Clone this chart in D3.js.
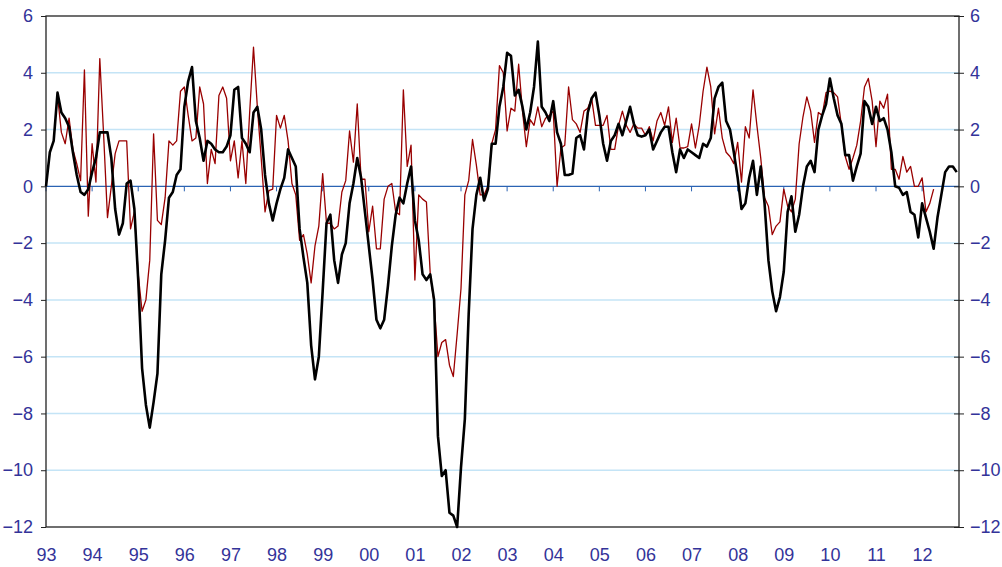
<!DOCTYPE html>
<html>
<head>
<meta charset="utf-8">
<script src="https://cdn.jsdelivr.net/npm/d3@7/dist/d3.min.js"></script>
<style>
  body { margin:0; padding:0; background:#fff; }
  svg { display:block; }
  .lbl text { font-family:"Liberation Sans", Arial, sans-serif; font-size:18px; fill:#333399; }
</style>
</head>
<body>
<div id="chart"></div>
<script>
// monthly values, black series from Jan 93, red series from Apr 93
var blackStart = 0;
var black = [
  0, 1.2, 1.6, 3.3, 2.6, 2.4, 2.1, 1.2, 0.4, -0.2, -0.3, -0.1,          // 93
  0.5, 1.0, 1.9, 1.9, 1.9, 1.0, -0.8, -1.7, -1.3, 0.1, 0.2, -0.8,       // 94
  -3.3, -6.4, -7.7, -8.5, -7.6, -6.6, -3.1, -1.9, -0.4, -0.2, 0.4, 0.6, // 95
  2.8, 3.7, 4.2, 2.3, 1.7, 0.9, 1.6, 1.5, 1.3, 1.2, 1.2, 1.4,           // 96
  1.8, 3.4, 3.5, 1.7, 1.5, 1.2, 2.6, 2.8, 2.0, 0.4, -0.6, -1.2,         // 97
  -0.6, -0.1, 0.3, 1.3, 1.0, 0.7, -1.5, -2.5, -3.4, -5.6, -6.8, -6.0,   // 98
  -3.7, -1.3, -1.0, -2.6, -3.4, -2.4, -2.0, -0.6, 0.1, 1.0, 0.3, -0.9,  // 99
  -2.1, -3.3, -4.7, -5.0, -4.7, -3.5, -2.1, -1.0, -0.4, -0.6, 0.1, 0.7, // 00
  -1.2, -1.9, -3.1, -3.3, -3.1, -4.0, -8.8, -10.2, -10.0, -11.5, -11.6, -12.0, // 01
  -9.9, -8.2, -4.5, -1.5, -0.3, 0.3, -0.5, -0.1, 1.5, 1.5, 2.8, 3.5,   // 02
  4.7, 4.6, 3.2, 3.4, 2.8, 2.0, 2.6, 3.5, 5.1, 2.8, 2.6, 2.3,           // 03
  3.0, 1.9, 1.5, 0.4, 0.4, 0.45, 1.7, 1.8, 1.3, 2.6, 3.1, 3.3,          // 04
  2.5, 1.5, 0.9, 1.6, 1.8, 2.2, 1.8, 2.3, 2.8, 2.2, 1.8, 1.75,          // 05
  1.8, 2.0, 1.3, 1.6, 1.9, 2.1, 2.1, 1.2, 0.5, 1.3, 1.0, 1.3,           // 06
  1.2, 1.1, 1.0, 1.5, 1.4, 1.7, 3.1, 3.5, 3.65, 2.3, 2.0, 1.2,          // 07
  0.3, -0.8, -0.6, 0.3, 0.9, -0.3, 0.7, -0.6, -2.6, -3.7, -4.4, -3.9,   // 08
  -3.0, -0.9, -0.35, -1.6, -1.0, 0, 0.7, 0.9, 0.5, 2.0, 2.5, 2.9,       // 09
  3.8, 3.1, 2.5, 2.2, 1.1, 1.1, 0.2, 0.7, 1.15, 3.0, 2.8, 2.2,          // 10
  2.8, 2.3, 2.4, 2.0, 1.2, 0, -0.05, -0.3, -0.2, -0.9, -1.0, -1.8,      // 11
  -0.6, -1.1, -1.6, -2.2, -1.1, -0.3, 0.5, 0.7, 0.7, 0.5                // 12
];
var redStart = 3;
var red = [
  3.2, 1.9, 1.5, 2.4, 1.3, 0.8, 0.2, 4.1, -1.05,                        // 93
  1.5, 0.15, 4.5, 1.8, -1.1, 0, 1.15, 1.6, 1.6, 1.6, -1.5, -0.9,        // 94
  -3.1, -4.4, -4.0, -2.6, 1.85, -1.2, -1.35, -0.4, 1.6, 1.45, 1.6, 3.35, // 95
  3.5, 2.5, 1.6, 1.7, 3.5, 2.9, 0.1, 1.3, 0.8, 3.2, 3.5, 3.1,           // 96
  0.9, 1.6, 0.3, 1.6, 0.1, 2.6, 4.9, 2.8, 1.0, -0.9, -0.15, -0.1,       // 97
  2.5, 2.05, 2.5, 1.6, 0.1, -0.3, -1.9, -1.7, -2.4, -3.4, -2.1, -1.4,   // 98
  0.45, -1.3, -1.3, -1.5, -1.4, -0.2, 0.2, 1.95, 0.85, 2.9, 0.25, 0.25, // 99
  -1.6, -0.7, -2.2, -2.2, -0.45, 0, 0.1, -0.9, -1.0, 3.4, 0.7, 1.45,    // 00
  -3.3, -0.3, -0.45, -0.55, -3.1, -4.1, -6.0, -5.5, -5.4, -6.3, -6.7, -5.2, // 01
  -3.6, -0.3, 0.2, 1.65, 0.75, -0.3, -0.3, 0, 1.5, 2.0, 4.25, 4.0,      // 02
  1.95, 2.75, 2.65, 4.3, 2.65, 1.4, 2.35, 2.15, 2.8, 2.1, 2.4, 2.5,     // 03
  2.65, 0, 1.35, 1.45, 3.5, 2.35, 2.2, 1.9, 2.65, 2.75, 3.1, 2.15,      // 04
  2.15, 2.15, 2.5, 1.3, 1.3, 2.15, 2.65, 2.15, 1.9, 2.2, 2.05, 2.05,    // 05
  1.8, 2.1, 1.6, 2.3, 2.6, 2.15, 2.8, 1.55, 2.4, 1.35, 1.35, 1.4,       // 06
  2.2, 1.35, 2.15, 3.35, 4.2, 3.5, 1.85, 2.75, 1.7, 1.2, 1.05, 0.8,     // 07
  1.55, 0.15, 2.1, 1.7, 3.4, 2.15, 1.0, -0.4, -0.7, -1.7, -1.4, -1.25,  // 08
  -0.1, -0.7, -0.9, -0.45, 1.5, 2.45, 3.15, 2.65, 1.55, 2.6, 2.5, 3.3,  // 09
  3.35, 3.3, 3.15, 2.15, 1.05, 0.6, 1.0, 1.45, 2.3, 3.5, 3.8, 3.0,      // 10
  1.4, 3.0, 2.75, 3.25, 0.6, 0.6, 0.25, 1.05, 0.5, 0.7, 0, 0,           // 11
  0.3, -0.9, -0.6, -0.1                                                 // 12
];
var years = ["93","94","95","96","97","98","99","00","01","02","03","04","05","06","07","08","09","10","11","12"];
var yTicks = [6, 4, 2, 0, -2, -4, -6, -8, -10, -12];

var W = 1002, H = 567;
var pL = 46, pR = 959, pT = 16, pB = 527;

var svg = d3.select("#chart").append("svg").attr("width", W).attr("height", H);

var x = d3.scaleLinear().domain([0, 237.6]).range([pL, pR]);
var y = d3.scaleLinear().domain([-12, 6]).range([pB, pT]);

// grid
svg.append("g").selectAll("line")
  .data(yTicks.filter(function(d){ return d != 0 && d != 6 && d != -12; }))
  .enter().append("line")
  .attr("x1", pL).attr("x2", pR)
  .attr("y1", function(d){ return y(d); }).attr("y2", function(d){ return y(d); })
  .attr("stroke", "#c4e4f6").attr("stroke-width", 1.5);

// zero line with year ticks hanging below
svg.append("line")
  .attr("x1", pL).attr("x2", pR).attr("y1", y(0)).attr("y2", y(0))
  .attr("stroke", "#2b63b3").attr("stroke-width", 1.2);
svg.append("g").selectAll("line").data(years).enter().append("line")
  .attr("x1", function(d, i){ return x(i * 12); }).attr("x2", function(d, i){ return x(i * 12); })
  .attr("y1", y(0)).attr("y2", y(0) + 5)
  .attr("stroke", "#2b63b3").attr("stroke-width", 1);

// frame
svg.append("rect").attr("x", pL).attr("y", pT)
  .attr("width", pR - pL).attr("height", pB - pT)
  .attr("fill", "none").attr("stroke", "#222").attr("stroke-width", 1.3);

// axes
var yl = svg.append("g").attr("class", "lbl").attr("transform", "translate(" + pL + ",0)")
  .call(d3.axisLeft(y).tickValues(yTicks).tickSize(5).tickPadding(8));
var yr = svg.append("g").attr("class", "lbl").attr("transform", "translate(" + pR + ",0)")
  .call(d3.axisRight(y).tickValues(yTicks).tickSize(5).tickPadding(6));
yr.selectAll(".tick line").attr("x1", -5);
var xa = svg.append("g").attr("class", "lbl").attr("transform", "translate(0," + pB + ")")
  .call(d3.axisBottom(x).tickValues(d3.range(0, 229, 12)).tickSize(0).tickPadding(21)
    .tickFormat(function(d){ return years[d / 12]; }));
[yl, yr, xa].forEach(function(g){
  g.select(".domain").remove();
  g.selectAll(".tick line").attr("stroke", "#222");
  g.selectAll("text").attr("font-family", null).attr("font-size", null).attr("fill", null);
});

// series
var line = d3.line().x(function(d){ return x(d[0]); }).y(function(d){ return y(d[1]); });
svg.append("path")
  .datum(red.map(function(v, i){ return [redStart + i, v]; }))
  .attr("d", line).attr("fill", "none").attr("stroke", "#990000").attr("stroke-width", 1.3)
  .attr("stroke-linejoin", "round");
svg.append("path")
  .datum(black.map(function(v, i){ return [blackStart + i, v]; }))
  .attr("d", line).attr("fill", "none").attr("stroke", "#000").attr("stroke-width", 2.6)
  .attr("stroke-linejoin", "round");
</script>
</body>
</html>
